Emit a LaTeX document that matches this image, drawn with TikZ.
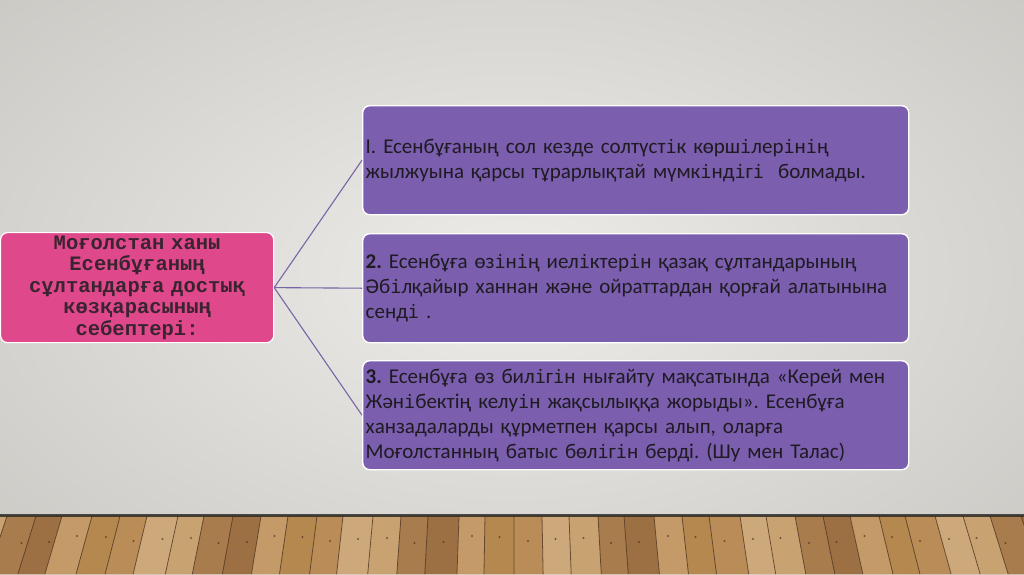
\documentclass[tikz,border=0pt]{standalone}
\usepackage{fontspec}
\setmainfont{Carlito}
\newfontfamily\monob{Liberation Mono}
\newfontfamily\monoi{DejaVu Sans Mono}
\newcommand\mi{{\monoi\fontsize{18.5}{25}\selectfont і}}
\definecolor{boxpurple}{HTML}{7B5EAE}
\definecolor{boxpink}{HTML}{E0488C}
\definecolor{txtdark}{HTML}{1E1B22}
\definecolor{txtpink}{HTML}{3A2430}
\definecolor{linepurple}{HTML}{7A64A8}
\definecolor{bgin}{HTML}{EDECE9}
\definecolor{bgout}{HTML}{CBC9C4}
\definecolor{wood0}{HTML}{C9A272}
\definecolor{wood1}{HTML}{B98C58}
\definecolor{wood2}{HTML}{C49A68}
\definecolor{wood3}{HTML}{A87C4C}
\definecolor{wood4}{HTML}{CDA87A}
\definecolor{wood5}{HTML}{B5884F}
\definecolor{wood6}{HTML}{9C7043}
\definecolor{seam}{HTML}{4A3220}
\begin{document}
\begin{tikzpicture}[x=1pt,y=-1pt,
  purplebox/.style={draw=white, line width=1.4pt, fill=boxpurple, rounded corners=7pt,
    minimum width=546pt, minimum height=109pt, text width=540pt, inner xsep=3pt,
    align=left, anchor=north west, text=txtdark, font=\fontsize{21}{25}\selectfont},
  pinkbox/.style={draw=white, line width=1.2pt, fill=boxpink, rounded corners=7pt,
    minimum width=273pt, minimum height=109pt, text width=265pt, inner xsep=4pt,
    align=center, anchor=north west, text=txtpink, font=\monob\bfseries\fontsize{20.5}{21.4}\selectfont},
  conn/.style={draw=linepurple, line width=1.1pt}]
\frenchspacing
\useasboundingbox (0,0) rectangle (1024,574);
% background wall
\shade[inner color=bgin, outer color=bgout] (-200,-150) rectangle (1224,700);
% floor
\fill[wood1] (0,515) rectangle (1024,574);
\xdef\curx{-20}
\foreach \i in {0,...,40}{
  \pgfmathsetmacro{\w}{{27,29,26,30,28,27,31,26,29,28}[mod(\i,10)]}
  \pgfmathsetmacro{\nx}{\curx+\w}
  \pgfmathsetmacro{\xc}{512+(\nx-512)*1.038}
  \pgfmathsetmacro{\xd}{512+(\curx-512)*1.038}
  \pgfmathsetmacro{\xm}{(\curx+\nx)/2}
  \pgfmathtruncatemacro{\k}{mod(\i*3,7)}
  \pgfmathsetmacro{\dy}{{538,541,536,543,539,537,542}[\k]}
  \fill[wood\k] (\curx,516) -- (\nx,516) -- (\xc,574) -- (\xd,574) -- cycle;
  \draw[seam, opacity=0.75, line width=0.8pt] (\curx,516) -- (\xd,574);
  \fill[seam, opacity=0.7] (\xm,\dy) circle (1.2pt);
  \xdef\curx{\nx}
}
\fill[black!85, opacity=0.8] (0,514) rectangle (1024,516.5);
% boxes
\node[pinkbox] (root) at (0,232) {Моғолстан ханы Есенбұғаның сұлтандарға достық көзқарасының себептері:};
\node[purplebox] (b1) at (362,105) {I. Есенбұғаның сол кезде солтүст\mi к көрш\mi лер\mi н\mi ң\\
жылжуына қарсы тұрарлықтай мүмк\mi нд\mi г\mi ~~болмады.};
\node[purplebox] (b2) at (362,233) {\textbf{2.} Есенбұға өз\mi н\mi ң иел\mi ктер\mi н қазақ сұлтандарының\\
Әб\mi лқайыр ханнан және ойраттардан қорғай алатынына\\
сенд\mi{} .};
\node[purplebox] (b3) at (362,360) {\textbf{3.} Есенбұға өз бил\mi г\mi н нығайту мақсатында «Керей мен\\
Жән\mi бектің келу\mi н жақсылыққа жорыды». Есенбұға\\
ханзадаларды құрметпен қарсы алып, оларға\\
Моғолстанның батыс бөл\mi г\mi н берді. (Шу мен Талас)};
% connectors
\coordinate (hub) at (root.east);
\draw[conn] (hub) -- (b1.west);
\draw[conn] (hub) -- (b2.west);
\draw[conn] (hub) -- (b3.west);
\end{tikzpicture}
\end{document}
